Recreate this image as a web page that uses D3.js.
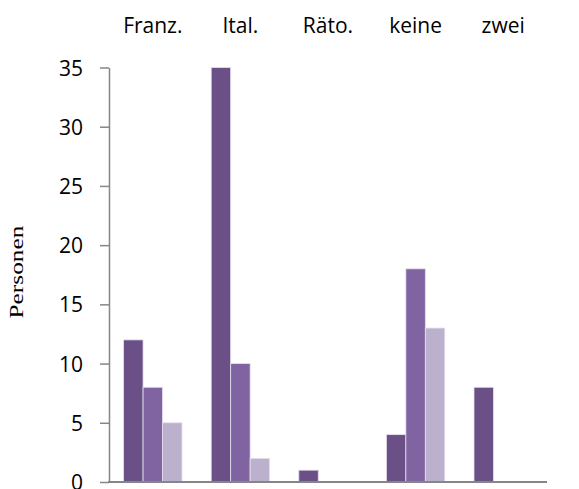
<!DOCTYPE html>
<html>
<head>
<meta charset="utf-8">
<script src="https://cdn.jsdelivr.net/npm/d3@7"></script>
<style>
  html, body { margin: 0; padding: 0; background: #fff; }
  svg { display: block; }
  .ytitle { font-family: "Liberation Serif", "Times New Roman", serif; font-size: 19px; font-weight: 400; }
</style>
</head>
<body>
<svg id="chart" width="579" height="489"></svg>
<script>
// Kategorien (Sprache) und drei Datenreihen (Anzahl Personen)
const categories = ["Franz.", "Ital.", "Räto.", "keine", "zwei"];
const seriesNames = ["Reihe 1", "Reihe 2", "Reihe 3"];
const series1 = [12, 35, 1, 4, 8];
const series2 = [8, 10, 0, 18, 0];
const series3 = [5, 2, 0, 13, 0];
const yTicks = [0, 5, 10, 15, 20, 25, 30, 35];
const colors = ["#6A5087", "#8064A2", "#BBB1CC"];

const seriesValues = [series1, series2, series3];
const rows = categories.map((c, i) => ({
  cat: c,
  vals: seriesValues.map((s, j) => ({ key: seriesNames[j], j, v: s[i] }))
}));

const svg = d3.select("#chart");
const plotLeft = 109, plotRight = 547, plotTop = 67.5, plotBottom = 482;

const x0 = d3.scaleBand().domain(categories).range([plotLeft, plotRight]).padding(0);
const x1 = d3.scaleBand().domain(seriesNames).range([0, x0.bandwidth()])
  .paddingInner(0).paddingOuter(0.75);
const y = d3.scaleLinear().domain([0, 35]).range([plotBottom, plotTop]);

const font = "'Open Sans', 'Noto Sans', sans-serif";

// Balken
const groups = svg.append("g").selectAll("g").data(rows).join("g")
  .attr("transform", d => `translate(${x0(d.cat)},0)`);
groups.selectAll("rect").data(d => d.vals.filter(e => e.v > 0)).join("rect")
  .attr("x", d => x1(d.key))
  .attr("y", d => y(d.v))
  .attr("width", x1.bandwidth())
  .attr("height", d => y(0) - y(d.v))
  .attr("fill", d => colors[d.j])
  .attr("stroke", "#E6E0EE")
  .attr("stroke-width", 0.8);

// y-Achse
const yAxis = svg.append("g")
  .attr("transform", `translate(${plotLeft},0)`)
  .call(d3.axisLeft(y).tickValues(yTicks).tickSize(9).tickSizeOuter(0).tickPadding(17));
yAxis.select(".domain").attr("stroke", "#868686").attr("stroke-width", 1.5);
yAxis.selectAll(".tick line").attr("stroke", "#868686").attr("stroke-width", 1.5);
yAxis.selectAll(".tick text")
  .attr("fill", "#000")
  .style("font-family", font)
  .style("font-size", "21px")
  .attr("dy", "0.36em");

// Grundlinie
svg.append("line")
  .attr("x1", plotLeft - 1).attr("x2", plotRight)
  .attr("y1", y(0)).attr("y2", y(0))
  .attr("stroke", "#868686").attr("stroke-width", 2);

// Kategorienbeschriftung oben
svg.append("g").selectAll("text").data(categories).join("text")
  .attr("x", d => x0(d) + x0.bandwidth() / 2)
  .attr("y", 33)
  .attr("text-anchor", "middle")
  .style("font-family", font)
  .style("font-size", "21px")
  .attr("fill", "#000")
  .text(d => d);

// Achsentitel: Länge auf ca. 93 px bringen
const titleG = svg.append("g").attr("transform", "translate(23,272) rotate(-90)");
const title = titleG.append("text")
  .attr("class", "ytitle")
  .attr("text-anchor", "middle")
  .attr("fill", "#000")
  .text("Personen");
const natural = title.node().getComputedTextLength() || 70;
title.attr("transform", `scale(${93 / natural},1)`);
</script>
</body>
</html>
